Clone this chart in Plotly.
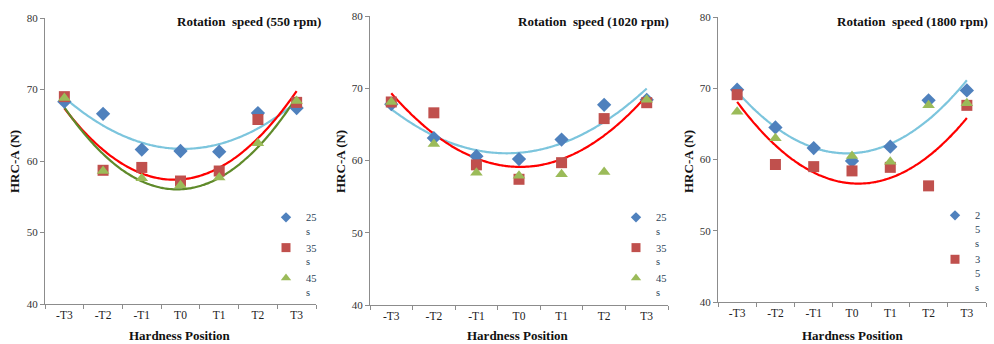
import numpy as np
import plotly.graph_objects as go

W, H = 994, 344
positions = ["-T3", "-T2", "-T1", "T0", "T1", "T2", "T3"]
series_names = ["25 s", "35 s", "45 s"]

# Panel 1: 550 rpm
p550_25 = [68.3, 66.6, 61.6, 61.4, 61.3, 66.7, 67.4]
p550_35 = [69.0, 58.7, 59.1, 57.2, 58.6, 65.8, 68.2]
p550_45 = [68.8, 58.6, 57.6, 56.6, 57.7, 62.5, 68.4]
# Panel 2: 1020 rpm
p1020_25 = [67.8, 63.1, 60.6, 60.2, 62.9, 67.7, 68.4]
p1020_35 = [68.1, 66.6, 59.4, 57.4, 59.7, 65.8, 68.0]
p1020_45 = [68.1, 62.3, 58.3, 57.9, 58.1, 58.4, 68.4]
# Panel 3: 1800 rpm
p1800_25 = [69.8, 64.5, 61.6, 59.8, 61.8, 68.3, 69.7]
p1800_35 = [69.1, 59.3, 59.0, 58.4, 58.9, 56.3, 67.6]
p1800_45 = [66.7, 63.0, None, 60.5, 59.7, 67.6, 67.9]

titles = ["Rotation  speed (550 rpm)", "Rotation  speed (1020 rpm)", "Rotation  speed (1800 rpm)"]

panels = [
    dict(data=[p550_25, p550_35, p550_45], trends=[0, 1, 2], leg=[0, 1, 2],
         legnames=["25<br>s", "35<br>s", "45<br>s"],
         xd=(45, 316), yd=(18, 304), title_right=323, ytitle_x=15, xt_center=180,
         leg_x=266, leg_y=204),
    dict(data=[p1020_25, p1020_35, p1020_45], trends=[0, 1], leg=[0, 1, 2],
         legnames=["25<br>s", "35<br>s", "45<br>s"],
         xd=(370, 668), yd=(16, 305), title_right=671, ytitle_x=341, xt_center=518,
         leg_x=616, leg_y=204),
    dict(data=[p1800_25, p1800_35, p1800_45], trends=[0, 1], leg=[0, 1],
         legnames=["2<br>5<br>s", "3<br>5<br>s"],
         xd=(718, 986), yd=(17, 302), title_right=990, ytitle_x=689, xt_center=853,
         leg_x=935, leg_y=202),
]

SERIF = "Liberation Serif, Times New Roman, Times, serif"
mcolors = ["#4f81bd", "#c0504d", "#9bbb59"]
msymbols = ["diamond", "square", "triangle-up"]
msizes = [11, 11, 11]
lsizes = [8, 9, 9]
tcolors = ["#7cc5dd", "#ff0000", "#5f8a2a"]

fig = go.Figure()
xi = np.arange(len(positions))
xs = np.linspace(0, len(positions) - 1, 120)

for p, pan in enumerate(panels):
    k = "" if p == 0 else str(p + 1)
    xa, ya = "x" + k, "y" + k
    legname = "legend" + k
    # trendlines (2nd-order polynomial fits of the series)
    for s in pan["trends"]:
        vals = np.array([np.nan if v is None else v for v in pan["data"][s]], dtype=float)
        m = ~np.isnan(vals)
        c = np.polyfit(xi[m], vals[m], 2)
        fig.add_trace(go.Scatter(x=xs, y=np.polyval(c, xs), mode="lines",
                                 line=dict(color=tcolors[s], width=2.2, shape="spline"),
                                 xaxis=xa, yaxis=ya, showlegend=False, hoverinfo="skip"))
    for s, vals in enumerate(pan["data"]):
        fig.add_trace(go.Scatter(
            x=xi, y=vals, mode="markers", name=series_names[s],
            marker=dict(symbol=msymbols[s], size=msizes[s], color=mcolors[s],
                        line=dict(width=0)),
            xaxis=xa, yaxis=ya, showlegend=False))
    # legend entries (smaller symbols, as in the reference)
    for j, s in enumerate(pan["leg"]):
        fig.add_trace(go.Scatter(
            x=[None], y=[None], mode="markers", name=pan["legnames"][j],
            marker=dict(symbol=msymbols[s], size=lsizes[s], color=mcolors[s],
                        line=dict(width=0)),
            xaxis=xa, yaxis=ya, showlegend=True, legend=legname))

    x0, x1 = pan["xd"]
    ytop, ybot = pan["yd"]
    fig.layout["xaxis" + k] = dict(
        domain=[x0 / W, x1 / W], anchor=ya, range=[-0.5, 6.5],
        tickmode="array", tickvals=list(xi), ticktext=positions, ticks="",
        tickfont=dict(family=SERIF, size=11.5, color="#222"),
        showline=True, linecolor="#8c8c8c", linewidth=1, showgrid=False, zeroline=False,
        minor=dict(tickvals=[i - 0.5 for i in range(len(positions) + 1)], ticks="outside",
                   ticklen=4, tickcolor="#8c8c8c", tickwidth=1),
        fixedrange=True)
    fig.layout["yaxis" + k] = dict(
        domain=[(H - ybot) / H, (H - ytop) / H], anchor=xa, range=[40, 80],
        tickmode="array", tickvals=[40, 50, 60, 70, 80], ticks="outside", ticklen=4,
        tickcolor="#8c8c8c", tickfont=dict(family=SERIF, size=11, color="#333"),
        showline=True, linecolor="#8c8c8c", linewidth=1, showgrid=False, zeroline=False,
        fixedrange=True)
    fig.layout[legname] = dict(
        x=pan["leg_x"] / W, y=(H - pan["leg_y"]) / H, xanchor="left", yanchor="top",
        bgcolor="rgba(0,0,0,0)", borderwidth=0, itemwidth=30, valign="top",
        font=dict(family=SERIF, size=10.5, color="#2b3f57"),
        tracegroupgap=0, itemclick=False, itemdoubleclick=False)

    fig.add_annotation(text="<b>" + titles[p] + "</b>", x=pan["title_right"] / W, y=(H - 21) / H,
                       xref="paper", yref="paper", xanchor="right", yanchor="middle",
                       showarrow=False, font=dict(family=SERIF, size=13, color="#111"))
    fig.add_annotation(text="<b>HRC-A (N)</b>", x=pan["ytitle_x"] / W, y=(H - 162) / H,
                       xref="paper", yref="paper", xanchor="center", yanchor="middle",
                       textangle=-90, showarrow=False,
                       font=dict(family=SERIF, size=13, color="#111"))
    fig.add_annotation(text="<b>Hardness Position</b>", x=pan["xt_center"] / W, y=(H - 335) / H,
                       xref="paper", yref="paper", xanchor="center", yanchor="middle",
                       showarrow=False, font=dict(family=SERIF, size=13, color="#111"))

fig.update_layout(width=W, height=H, margin=dict(l=0, r=0, t=0, b=0, autoexpand=False),
                  paper_bgcolor="white", plot_bgcolor="white", showlegend=True,
                  hovermode=False)

fig.write_html("out.html", config={"displayModeBar": False, "staticPlot": True},
               post_script="document.body.style.margin='0';document.body.style.overflow='hidden';")
